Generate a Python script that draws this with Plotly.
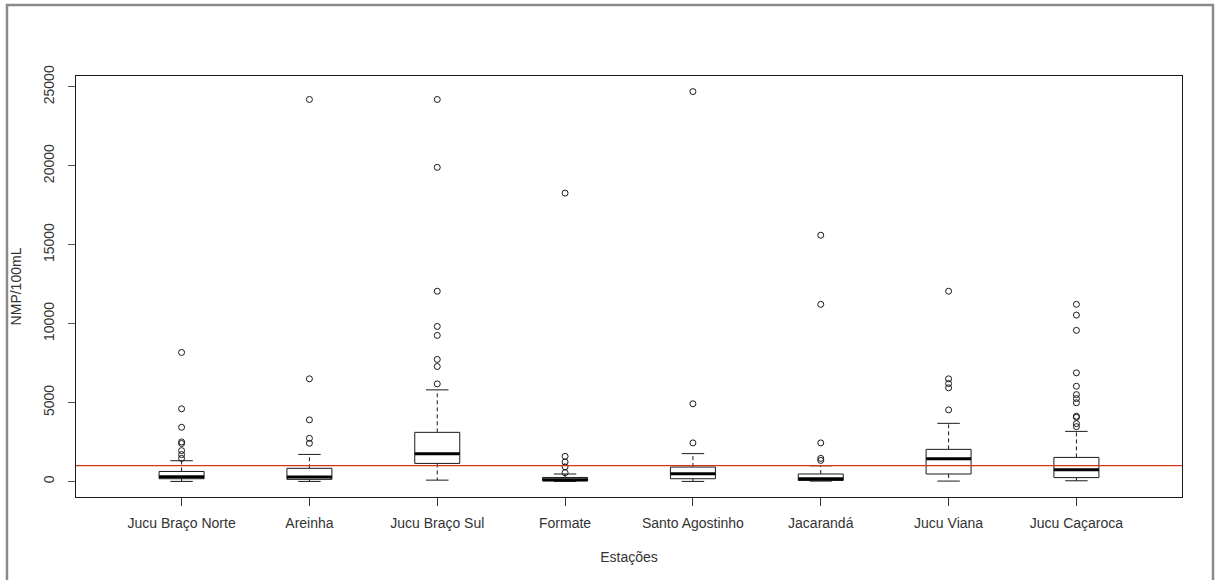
import plotly.graph_objects as go

stations = ["Jucu Braço Norte", "Areinha", "Jucu Braço Sul", "Formate",
            "Santo Agostinho", "Jacarandá", "Jucu Viana", "Jucu Caçaroca"]
lower_whisker = [0, 0, 80, 0, 0, 20, 20, 40]
q1 = [170, 130, 1140, 30, 170, 60, 470, 240]
median = [300, 280, 1760, 100, 490, 170, 1440, 740]
q3 = [630, 830, 3110, 250, 910, 470, 2030, 1520]
upper_whisker = [1310, 1710, 5800, 470, 1760, 990, 3680, 3170]
outliers = [
    [8170, 4600, 3430, 2500, 2400, 1950, 1700, 1460],
    [24200, 6500, 3900, 2730, 2420],
    [24200, 19900, 12050, 9820, 9250, 7730, 7280, 6180],
    [18270, 1590, 1230, 920, 550],
    [24700, 4920, 2440],
    [15600, 11220, 2440, 1460, 1330],
    [12050, 6500, 6200, 5930, 4530],
    [11220, 10540, 9570, 6880, 6030, 5500, 5250, 4980, 4130, 4060, 3660, 3470],
]
threshold = 1000
y_ticks = [0, 5000, 10000, 15000, 20000, 25000]

BOX_HALF = 0.176
CAP_HALF = 0.088
INK = "#1a1a1a"

pos = list(range(len(stations)))

bx, by, mx, my, wx, wy, cx, cy, ox, oy = ([] for _ in range(10))
for i in pos:
    bx += [i - BOX_HALF, i + BOX_HALF, i + BOX_HALF, i - BOX_HALF, i - BOX_HALF, None]
    by += [q1[i], q1[i], q3[i], q3[i], q1[i], None]
    mx += [i - BOX_HALF, i + BOX_HALF, None]
    my += [median[i], median[i], None]
    wx += [i, i, None, i, i, None]
    wy += [q3[i], upper_whisker[i], None, q1[i], lower_whisker[i], None]
    cx += [i - CAP_HALF, i + CAP_HALF, None, i - CAP_HALF, i + CAP_HALF, None]
    cy += [upper_whisker[i], upper_whisker[i], None, lower_whisker[i], lower_whisker[i], None]
    for v in outliers[i]:
        ox.append(i)
        oy.append(v)

fig = go.Figure()
fig.add_trace(go.Scatter(x=wx, y=wy, mode="lines",
                         line=dict(color=INK, width=1, dash="4px,3px"), hoverinfo="skip"))
fig.add_trace(go.Scatter(x=cx, y=cy, mode="lines",
                         line=dict(color=INK, width=1), hoverinfo="skip"))
fig.add_trace(go.Scatter(x=bx, y=by, mode="lines", fill="toself", fillcolor="white",
                         line=dict(color=INK, width=1), hoverinfo="skip"))
fig.add_trace(go.Scatter(x=mx, y=my, mode="lines",
                         line=dict(color="black", width=3), hoverinfo="skip"))
fig.add_trace(go.Scatter(x=ox, y=oy, mode="markers",
                         marker=dict(symbol="circle-open", size=6, color=INK,
                                     line=dict(width=1, color=INK))))

fig.add_shape(type="line", xref="paper", x0=0, x1=1, yref="y", y0=threshold, y1=threshold,
              line=dict(color="#d8321e", width=1.3))

# outer grey border of the image
fig.add_shape(type="rect", xref="paper", yref="paper",
              x0=(7 - 76) / 1106, x1=(1213 - 76) / 1106,
              y0=(497 - 600) / 421, y1=(497 - 5) / 421,
              line=dict(color="#8a8a8a", width=2.5))

font_fam = "Liberation Sans, Arial, sans-serif"
fig.update_layout(
    width=1220, height=580,
    margin=dict(l=76, r=38, t=76, b=83),
    paper_bgcolor="white", plot_bgcolor="white",
    showlegend=False,
    font=dict(family=font_fam, size=14, color="#333333"),
    xaxis=dict(
        range=[-0.826, 7.826], tickmode="array", tickvals=pos, ticktext=stations,
        ticks="outside", ticklen=8, tickcolor="#333333", tickwidth=1,
        ticklabelstandoff=5,
        showline=True, linecolor=INK, linewidth=1, mirror=True,
        showgrid=False, zeroline=False,
        title=dict(text="Estações", standoff=22, font=dict(size=14, color="#333333")),
    ),
    yaxis=dict(
        range=[-988, 25688], tickmode="array", tickvals=y_ticks,
        ticktext=[str(v) for v in y_ticks], tickangle=-90,
        ticks="outside", ticklen=7, tickcolor="#555555", tickwidth=1,
        ticklabelstandoff=8,
        showline=True, linecolor=INK, linewidth=1, mirror=True,
        showgrid=False, zeroline=False,
        title=dict(text="NMP/100mL", standoff=16, font=dict(size=14, color="#333333")),
    ),
)

fig.write_html("out.html")
